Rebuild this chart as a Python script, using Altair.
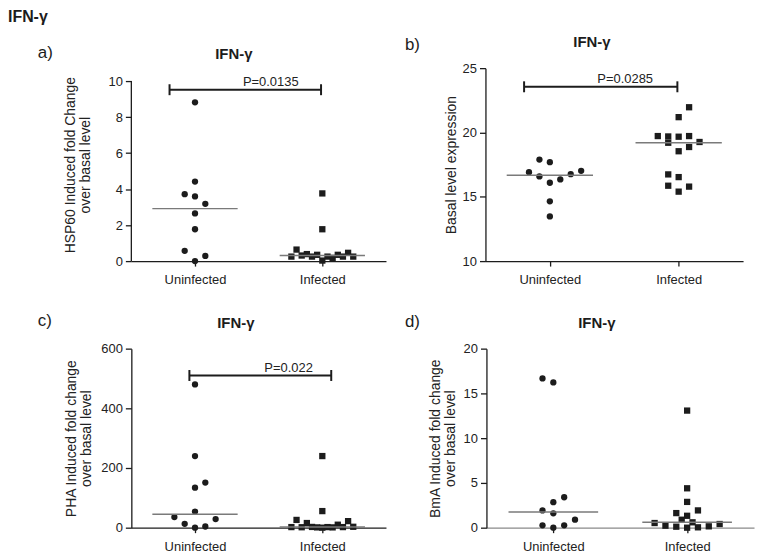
import altair as alt
import pandas as pd

FONT = "Liberation Sans"
INK = "#1c1c1c"

GROUPS = ["Uninfected", "Infected"]
SHAPES = ["circle", "square"]
PANEL_LETTERS = ["a)", "b)", "c)", "d)"]
PANEL_TITLE = "IFN-γ"
MAIN_TITLE = "IFN-γ"

# ---- panel a : HSP60 induced fold change ----
A_UNINF = [8.82, 4.42, 3.72, 3.59, 3.18, 2.65, 1.77, 0.57, 0.29, 0.0]
A_UNINF_SLOT = [0, 0, -2, 0, 2, 0, 0, -2, 2, 0]
A_INF = [3.76, 1.77, 0.25, 0.64, 0.31, 0.39, 0.25, 0.35, 0.03, 0.25, 0.18, 0.35, 0.25, 0.46, 0.25]
A_INF_SLOT = [0, 0, -6, -5, -4, -3, -2, -1, 0, 1, 2, 3, 4, 5, 6]
A_YTITLE = ["HSP60 Induced fold Change", "over basal level"]
A_YDOMAIN = [0, 10]
A_YTICKS = [0, 2, 4, 6, 8, 10]
A_P = "P=0.0135"

# ---- panel b : basal level expression ----
B_UNINF = [17.89, 17.69, 16.91, 16.58, 16.09, 16.35, 16.76, 17.02, 14.65, 13.47]
B_UNINF_SLOT = [-2, 0, -4, -2, 0, 2, 4, 6, 0, 0]
B_INF = [21.96, 21.19, 19.72, 19.69, 19.2, 19.67, 19.72, 19.26, 18.54, 18.87, 16.74, 16.53, 15.86, 15.79, 15.4]
B_INF_SLOT = [2, 0, -4, -2, -2, 0, 2, 4, 0, 2, -2, 0, -2, 2, 0]
B_YTITLE = "Basal level expression"
B_YDOMAIN = [10, 25]
B_YTICKS = [10, 15, 20, 25]
B_P = "P=0.0285"

# ---- panel c : PHA induced fold change ----
C_UNINF = [480, 240, 151, 134, 54, 35.6, 29, 13, 4, 0]
C_UNINF_SLOT = [0, 0, 2, 0, 0, -4, 4, -2, 2, 0]
C_INF = [240, 55.6, 2, 26, 1.5, 15.6, 2.5, 1, 0, 2, 1, 10, 2, 22, 3]
C_INF_SLOT = [0, 0, -6, -5, -4, -3, -2, -1, 0, 1, 2, 3, 4, 5, 6]
C_YTITLE = ["PHA Induced fold change", "over basal level"]
C_YDOMAIN = [0, 600]
C_YTICKS = [0, 200, 400, 600]
C_P = "P=0.022"

# ---- panel d : BmA induced fold change ----
D_UNINF = [16.67, 16.23, 3.4, 2.85, 1.93, 1.6, 0.89, 0.26, 0.0, 0.26]
D_UNINF_SLOT = [-2, 0, 2, 0, -2, 0, 4, -2, 0, 2]
D_INF = [13.08, 4.4, 2.88, 1.63, 1.93, 1.33, 0.89, 0.6, 0.52, 0.22, 0.11, 0.0, 0.04, 0.15, 0.41]
D_INF_SLOT = [0, 0, 0, -2, 2, 0, -1, 1, -6, -4, -2, 0, 2, 4, 6]
D_YTITLE = ["BmA Induced fold change", "over basal level"]
D_YDOMAIN = [0, 20]
D_YTICKS = [0, 5, 10, 15, 20]

HALF_SLOT = 0.0405   # horizontal spread of overlapping points (x units)
MED_HALF = 0.335     # half length of the median line (x units)


def panel(uninf, uslot, inf, islot, ydomain, yticks, ytitle, width, height,
          letter, letter_xy, title_xy, title_pad, bracket=None, xdomain_color=INK,
          view_ymax=None):
    df = pd.DataFrame({
        "group": [GROUPS[0]] * len(uninf) + [GROUPS[1]] * len(inf),
        "gi": [0] * len(uninf) + [1] * len(inf),
        "value": uninf + inf,
        "slot": uslot + islot,
    })
    ydom = [ydomain[0], view_ymax if view_ymax is not None else ydomain[1]]
    xscale = alt.Scale(domain=[-0.5, 1.5], nice=False, zero=False)
    yscale = alt.Scale(domain=ydom, nice=False, zero=False)
    label_expr = f"datum.value == 0 ? '{GROUPS[0]}' : '{GROUPS[1]}'"
    xaxis = alt.Axis(values=[0, 1], labelExpr=label_expr, title=None,
                     tickSize=5, labelPadding=8, domainColor=xdomain_color,
                     labelFlush=False)
    yaxis = alt.Axis(values=yticks, title=ytitle, titlePadding=title_pad,
                     titleLineHeight=15, tickSize=6, labelPadding=3,
                     domain=view_ymax is None)

    def X(f):
        return alt.X(f, type="quantitative", scale=xscale, axis=xaxis)

    def Y(f):
        return alt.Y(f, type="quantitative", scale=yscale, axis=yaxis)

    base = alt.Chart(df)
    pts = base.transform_calculate(
        xpos=f"datum.gi + datum.slot * {HALF_SLOT}"
    ).mark_point(filled=True, opacity=1, size=40, color=INK, strokeWidth=0).encode(
        x=X("xpos"),
        y=Y("value"),
        shape=alt.Shape("group:N", scale=alt.Scale(domain=GROUPS, range=SHAPES), legend=None),
    )
    med = base.transform_aggregate(
        med="median(value)", groupby=["gi"]
    ).transform_calculate(
        mx1=f"datum.gi - {MED_HALF}", mx2=f"datum.gi + {MED_HALF}"
    ).mark_rule(color="#7a7a7a", strokeWidth=1.5).encode(
        x=X("mx1"), x2=alt.X2("mx2"), y=Y("med")
    )
    layers = [pts, med]
    if view_ymax is not None:
        # y axis line running only over the labelled range
        adf = pd.DataFrame({"ax": [-0.5], "y0": [ydomain[0]], "y1": [ydomain[1]]})
        layers.append(alt.Chart(adf).mark_rule(color=INK, strokeWidth=1.3).encode(
            x=X("ax"), y=Y("y0"), y2=alt.Y2("y1")))
    if bracket is not None:
        bdf = pd.DataFrame({"x1": [bracket["x1"]], "x2": [bracket["x2"]],
                            "py": [bracket["y"]], "tx": [bracket["tx"]],
                            "label": [bracket["label"]]})
        bb = alt.Chart(bdf)
        layers.append(bb.mark_rule(color=INK, strokeWidth=2).encode(
            x=X("x1"), x2=alt.X2("x2"), y=Y("py")))
        layers.append(bb.transform_fold(["x1", "x2"], as_=["end", "cx"]).mark_tick(
            orient="vertical", size=11, thickness=2, color=INK, opacity=1).encode(
            x=X("cx"), y=Y("py")))
        layers.append(bb.mark_text(font=FONT, fontSize=13, color="#222", baseline="alphabetic",
                                   align="center", dy=-4).encode(
            x=X("tx"), y=Y("py"), text="label:N"))
    ldf = pd.DataFrame({"t": [letter], "title": [PANEL_TITLE]})
    lc = alt.Chart(ldf)
    layers.append(lc.mark_text(font=FONT, fontSize=17, color=INK, align="left",
                               baseline="middle").encode(
        text="t:N", x=alt.value(letter_xy[0]), y=alt.value(letter_xy[1])))
    layers.append(lc.mark_text(font=FONT, fontSize=15, fontWeight="bold", color=INK,
                               align="center", baseline="middle").encode(
        text="title:N", x=alt.value(title_xy[0]), y=alt.value(title_xy[1])))
    return alt.layer(*layers).properties(width=width, height=height)


pa = panel(A_UNINF, A_UNINF_SLOT, A_INF, A_INF_SLOT, A_YDOMAIN, A_YTICKS, A_YTITLE,
           256, 194, PANEL_LETTERS[0], (-94, -15), (103, -14), 16,
           bracket=dict(x1=-0.2, x2=0.99, y=9.52, tx=0.595, label=A_P),
           view_ymax=10 * 194 / 181)
pb = panel(B_UNINF, B_UNINF_SLOT, B_INF, B_INF_SLOT, B_YDOMAIN, B_YTICKS, B_YTITLE,
           259, 194, PANEL_LETTERS[1], (-81, -23), (107, -26), 4,
           bracket=dict(x1=-0.2, x2=0.99, y=23.55, tx=0.585, label=B_P))
pc = panel(C_UNINF, C_UNINF_SLOT, C_INF, C_INF_SLOT, C_YDOMAIN, C_YTICKS, C_YTITLE,
           256, 180, PANEL_LETTERS[2], (-94, -27.5), (105, -26), 7.5,
           bracket=dict(x1=-0.044, x2=1.07, y=510, tx=0.735, label=C_P))
pd_ = panel(D_UNINF, D_UNINF_SLOT, D_INF, D_INF_SLOT, D_YDOMAIN, D_YTICKS, D_YTITLE,
            269, 180, PANEL_LETTERS[3], (-82, -27), (111, -26), 6, xdomain_color="#8a8a8a")

chart = alt.vconcat(
    alt.hconcat(pa, pb, spacing=19),
    alt.hconcat(pc, pd_, spacing=19),
    spacing=25,
    title=alt.TitleParams(MAIN_TITLE, font=FONT, fontSize=16, fontWeight="bold", color=INK,
                          anchor="start", frame="bounds", dx=-30, offset=10),
).properties(
    padding={"left": 0, "top": 0, "right": 2, "bottom": 0}
).configure_axis(
    labelFont=FONT, titleFont=FONT, labelFontSize=13, titleFontSize=14,
    titleFontWeight="normal", labelColor="#222", titleColor="#222",
    domainColor=INK, tickColor=INK, domainWidth=1.3, tickWidth=1.3, grid=False,
).configure_view(stroke=None)

chart.save("out.html", embed_options={"renderer": "svg", "actions": False})
